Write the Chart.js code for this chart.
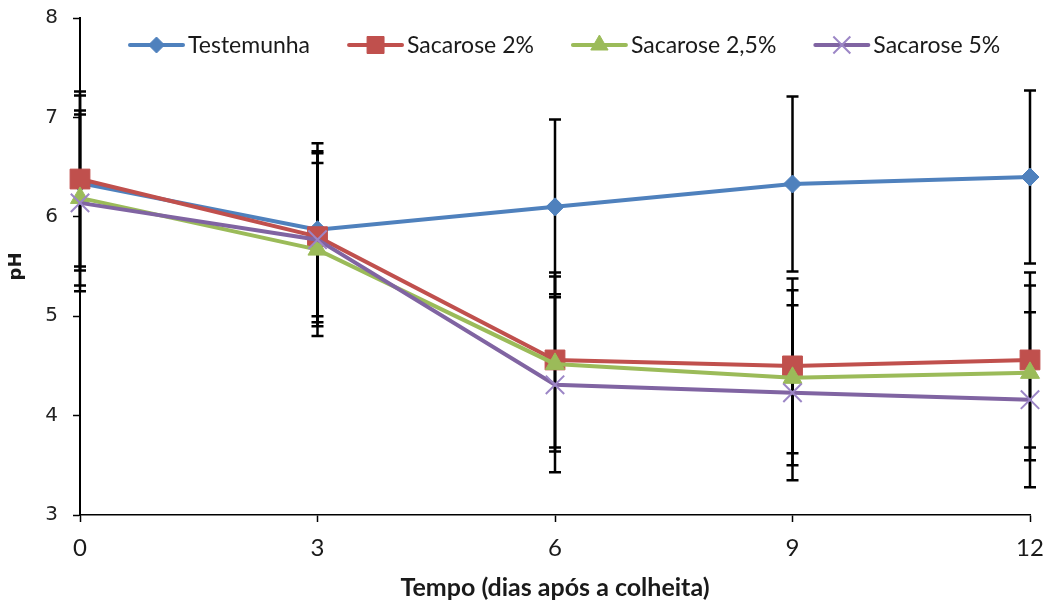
<!DOCTYPE html>
<html>
<head>
<meta charset="utf-8">
<script src="https://cdn.jsdelivr.net/npm/chart.js@4"></script>
<style>
  html, body { margin: 0; padding: 0; background: #fff; }
  #wrap { width: 1048px; height: 604px; position: relative; }
</style>
</head>
<body>
<div id="wrap"><canvas id="myChart"></canvas></div>
<script>
// days after harvest
const days = [0, 3, 6, 9, 12];

// pH means
const testemunha = [6.34, 5.87, 6.10, 6.33, 6.40];
const sacarose2 = [6.38, 5.80, 4.56, 4.50, 4.56];
const sacarose25 = [6.19, 5.67, 4.52, 4.38, 4.43];
const sacarose5 = [6.14, 5.77, 4.31, 4.23, 4.16];

// error bars (+/-)
const errTestemunha = [0.88, 0.87, 0.88, 0.88, 0.87];
const errSacarose2 = [0.88, 0.86, 0.88, 0.88, 0.88];
const errSacarose25 = [0.88, 0.87, 0.88, 0.88, 0.88];
const errSacarose5 = [0.89, 0.87, 0.88, 0.88, 0.88];

const seriesLabels = ['Testemunha', 'Sacarose 2%', 'Sacarose 2,5%', 'Sacarose 5%'];
const yTicks = [3, 4, 5, 6, 7, 8];
const xTicks = [0, 3, 6, 9, 12];

function toPoints(values) {
    return values.map((v, i) => ({ x: days[i], y: v }));
}

const errorBars = {
    id: 'errorBars',
    beforeDatasetsDraw(chart) {
        const ctx = chart.ctx;
        const xs = chart.scales.x;
        const ys = chart.scales.y;
        ctx.save();
        ctx.strokeStyle = '#000';
        ctx.lineWidth = 2.5;
        chart.data.datasets.forEach((ds) => {
            ds.data.forEach((p, i) => {
                const e = ds.errors[i];
                const px = xs.getPixelForValue(p.x);
                const top = ys.getPixelForValue(p.y + e);
                const bot = ys.getPixelForValue(p.y - e);
                ctx.beginPath();
                ctx.moveTo(px, top);
                ctx.lineTo(px, bot);
                ctx.moveTo(px - 6, top);
                ctx.lineTo(px + 6, top);
                ctx.moveTo(px - 6, bot);
                ctx.lineTo(px + 6, bot);
                ctx.stroke();
            });
        });
        ctx.restore();
    }
};

const lineLegend = {
    id: 'lineLegend',
    afterDraw(chart) {
        const ctx = chart.ctx;
        const area = chart.chartArea;
        ctx.save();
        ctx.font = '23px Lato';
        ctx.textBaseline = 'middle';
        const sample = 53;
        const gapText = 5;
        const gapItem = 39;
        let x = area.left + 50;
        const y = area.top + 27;
        chart.data.datasets.forEach((ds) => {
            ctx.strokeStyle = ds.borderColor;
            ctx.lineWidth = 4;
            ctx.lineCap = 'round';
            ctx.beginPath();
            ctx.moveTo(x, y);
            ctx.lineTo(x + sample, y);
            ctx.stroke();
            ctx.fillStyle = ds.pointBackgroundColor;
            ctx.strokeStyle = ds.pointBorderColor;
            ctx.lineWidth = ds.pointBorderWidth;
            ctx.lineCap = 'butt';
            Chart.helpers.drawPoint(ctx, {
                pointStyle: ds.pointStyle,
                radius: ds.legendRadius,
                rotation: 0,
                borderWidth: ds.pointBorderWidth
            }, x + sample / 2, y);
            ctx.fillStyle = '#1a1a1a';
            ctx.fillText(ds.label, x + sample + gapText, y + 1);
            x += sample + gapText + ctx.measureText(ds.label).width + gapItem;
        });
        ctx.restore();
    }
};

let myChart = null;

function createChart() {
    if (myChart !== null) {
        myChart.destroy();
    }
    const ctx = document.getElementById('myChart').getContext('2d');
    myChart = new Chart(ctx, {
        type: 'line',
        data: {
            datasets: [
                {
                    label: seriesLabels[0],
                    data: toPoints(testemunha),
                    errors: errTestemunha,
                    borderColor: '#4F81BD',
                    pointBackgroundColor: '#4F81BD',
                    pointBorderColor: '#4F81BD',
                    pointBorderWidth: 1,
                    pointStyle: 'rectRot',
                    pointRadius: 9,
                    legendRadius: 8,
                    order: 4
                },
                {
                    label: seriesLabels[1],
                    data: toPoints(sacarose2),
                    errors: errSacarose2,
                    borderColor: '#C0504D',
                    pointBackgroundColor: '#C0504D',
                    pointBorderColor: '#C0504D',
                    pointBorderWidth: 1,
                    pointStyle: 'rect',
                    pointRadius: 14,
                    legendRadius: 12,
                    order: 3
                },
                {
                    label: seriesLabels[2],
                    data: toPoints(sacarose25),
                    errors: errSacarose25,
                    borderColor: '#9BBB59',
                    pointBackgroundColor: '#9BBB59',
                    pointBorderColor: '#9BBB59',
                    pointBorderWidth: 1,
                    pointStyle: 'triangle',
                    pointRadius: 11,
                    legendRadius: 10,
                    order: 2
                },
                {
                    label: seriesLabels[3],
                    data: toPoints(sacarose5),
                    errors: errSacarose5,
                    borderColor: '#8064A2',
                    pointBackgroundColor: '#8064A2',
                    pointBorderColor: '#9C86C6',
                    pointBorderWidth: 2,
                    pointStyle: 'crossRot',
                    pointRadius: 13,
                    legendRadius: 12,
                    order: 1
                }
            ].map((d) => Object.assign({
                borderWidth: 4,
                fill: false,
                tension: 0,
                clip: false,
                pointHoverRadius: d.pointRadius
            }, d))
        },
        options: {
            responsive: true,
            maintainAspectRatio: false,
            animation: false,
            layout: {
                padding: { top: 18, right: 18, left: 0, bottom: 0 }
            },
            plugins: {
                legend: { display: false },
                tooltip: { enabled: false }
            },
            scales: {
                x: {
                    type: 'linear',
                    min: 0,
                    max: 12,
                    afterFit(scale) {
                        scale.height = 89;
                        scale.paddingLeft = 0;
                        scale.paddingRight = 0;
                    },
                    afterBuildTicks(scale) { scale.ticks = xTicks.map((v) => ({ value: v })); },
                    title: {
                        display: true,
                        text: 'Tempo (dias após a colheita)',
                        color: '#1a1a1a',
                        font: { family: 'Lato', size: 25, weight: 'bold' },
                        padding: { top: 0, bottom: 1 }
                    },
                    grid: {
                        drawOnChartArea: false,
                        drawTicks: true,
                        tickLength: 7,
                        tickColor: '#000',
                        tickWidth: 1.5
                    },
                    border: { color: '#000', width: 1.5 },
                    ticks: {
                        color: '#1a1a1a',
                        padding: 12,
                        maxRotation: 0,
                        font: { family: 'Lato', size: 24 }
                    }
                },
                y: {
                    min: 3,
                    max: 8,
                    afterFit(scale) {
                        scale.width = 80;
                        scale.paddingTop = 0;
                        scale.paddingBottom = 0;
                    },
                    afterBuildTicks(scale) { scale.ticks = yTicks.map((v) => ({ value: v })); },
                    title: {
                        display: true,
                        text: 'pH',
                        color: '#1a1a1a',
                        font: { family: 'DejaVu Sans', size: 18, weight: 'bold' },
                        padding: { top: 6, bottom: 10 }
                    },
                    grid: {
                        drawOnChartArea: false,
                        drawTicks: true,
                        tickLength: 7,
                        tickColor: '#000',
                        tickWidth: 1.5
                    },
                    border: { color: '#000', width: 2 },
                    ticks: {
                        color: '#222',
                        padding: 15,
                        font: { family: 'DejaVu Sans', size: 20 }
                    }
                }
            }
        },
        plugins: [errorBars, lineLegend]
    });
}

createChart();
</script>
</body>
</html>
